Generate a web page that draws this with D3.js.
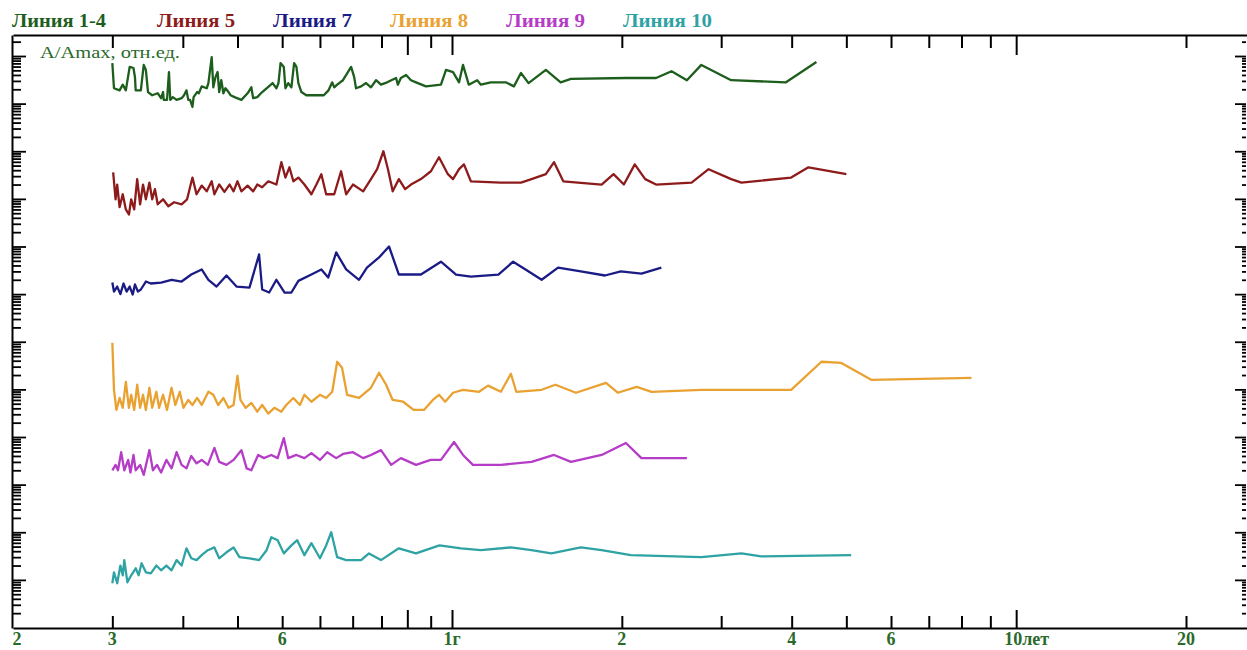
<!doctype html>
<html lang="ru">
<head>
<meta charset="UTF-8" />
<script src="https://unpkg.com/d3@7.9.0/dist/d3.min.js"></script>
<style>
  body { margin: 0; background: #fff; overflow: hidden; }
  svg { display: block; font-family: "Liberation Serif", "Times New Roman", serif; }
  .legend text { font-weight: bold; font-size: 18px; }
  .xlab { font-weight: bold; font-size: 18px; fill: #2b6a2b; }
  .ylab { font-size: 17px; fill: #2b6a2b; }
  .axis path, .axis line { stroke: #000; stroke-width: 2; }
  .series { fill: none; stroke-width: 2.3; stroke-linejoin: round; }
</style>
</head>
<body>
<svg width="1247" height="650"></svg>
<script>
// [месяцы, A/Amax]
const line14 = [[3.00,0.71],[3.02,0.21],[3.09,0.19],[3.13,0.25],[3.17,0.19],[3.22,0.59],[3.27,0.56],[3.29,0.36],[3.30,0.19],[3.37,0.19],[3.41,0.65],[3.44,0.51],[3.47,0.175],[3.53,0.15],[3.61,0.165],[3.66,0.13],[3.69,0.175],[3.70,0.12],[3.75,0.12],[3.78,0.46],[3.80,0.12],[3.84,0.137],[3.90,0.12],[3.98,0.13],[4.02,0.15],[4.06,0.19],[4.09,0.12],[4.12,0.12],[4.16,0.085],[4.18,0.137],[4.24,0.175],[4.27,0.165],[4.32,0.23],[4.41,0.21],[4.44,0.27],[4.50,0.95],[4.53,0.22],[4.57,0.36],[4.61,0.46],[4.64,0.175],[4.68,0.31],[4.72,0.165],[4.76,0.21],[4.82,0.175],[4.86,0.15],[4.94,0.137],[5.08,0.12],[5.21,0.165],[5.29,0.22],[5.33,0.13],[5.42,0.137],[5.53,0.175],[5.63,0.21],[5.77,0.27],[5.86,0.21],[5.91,0.27],[5.96,0.71],[6.04,0.59],[6.08,0.21],[6.15,0.27],[6.23,0.22],[6.30,0.71],[6.36,0.59],[6.41,0.27],[6.49,0.175],[6.62,0.15],[6.76,0.15],[7.11,0.15],[7.25,0.19],[7.36,0.28],[7.42,0.22],[7.51,0.25],[7.69,0.31],[7.95,0.59],[8.05,0.36],[8.11,0.21],[8.28,0.23],[8.45,0.27],[8.62,0.22],[8.80,0.31],[8.98,0.25],[9.21,0.28],[9.55,0.345],[9.62,0.25],[9.74,0.345],[9.95,0.40],[10.15,0.31],[10.36,0.28],[10.79,0.23],[11.47,0.25],[11.71,0.51],[12.05,0.46],[12.35,0.28],[12.55,0.65],[12.85,0.25],[13.3,0.31],[13.5,0.25],[14.06,0.28],[14.95,0.28],[15.45,0.23],[15.9,0.44],[16.4,0.27],[17.6,0.51],[18.7,0.28],[19.5,0.33],[24.4,0.345],[27.6,0.345],[29.4,0.48],[31.3,0.31],[33.2,0.65],[37.5,0.31],[46.9,0.28],[53.1,0.75]];

const line5 = [[3.01,0.36],[3.04,0.098],[3.06,0.20],[3.09,0.067],[3.13,0.125],[3.17,0.06],[3.21,0.047],[3.24,0.098],[3.28,0.06],[3.32,0.26],[3.36,0.077],[3.40,0.20],[3.44,0.098],[3.49,0.22],[3.53,0.098],[3.57,0.16],[3.61,0.077],[3.69,0.098],[3.77,0.07],[3.86,0.085],[3.98,0.077],[4.07,0.098],[4.16,0.28],[4.23,0.125],[4.32,0.19],[4.41,0.144],[4.50,0.234],[4.55,0.125],[4.64,0.20],[4.74,0.14],[4.84,0.20],[4.92,0.144],[5.00,0.234],[5.08,0.144],[5.21,0.19],[5.33,0.144],[5.42,0.20],[5.53,0.175],[5.67,0.234],[5.86,0.20],[5.98,0.59],[6.08,0.28],[6.18,0.46],[6.28,0.234],[6.41,0.28],[6.57,0.20],[6.76,0.125],[6.90,0.20],[7.04,0.33],[7.18,0.125],[7.42,0.125],[7.63,0.38],[7.79,0.125],[8.01,0.20],[8.35,0.144],[8.62,0.26],[8.84,0.42],[9.07,1.0],[9.24,0.42],[9.42,0.144],[9.66,0.26],[9.91,0.16],[10.15,0.20],[10.57,0.26],[11.01,0.38],[11.38,0.75],[11.8,0.33],[12.05,0.26],[12.35,0.42],[12.6,0.53],[12.96,0.234],[14.65,0.22],[15.9,0.22],[16.6,0.26],[17.6,0.33],[18.2,0.59],[18.9,0.234],[22.1,0.20],[23.2,0.33],[24.2,0.20],[25.3,0.53],[26.4,0.26],[27.6,0.20],[31.9,0.22],[34.2,0.42],[37.5,0.26],[39.1,0.22],[47.9,0.28],[51.4,0.46],[60.0,0.33]];

const line7 = [[3.00,0.175],[3.02,0.113],[3.06,0.144],[3.10,0.10],[3.14,0.167],[3.18,0.113],[3.22,0.144],[3.26,0.098],[3.29,0.16],[3.33,0.113],[3.37,0.125],[3.44,0.184],[3.51,0.167],[3.66,0.175],[3.82,0.20],[3.98,0.184],[4.14,0.258],[4.32,0.33],[4.44,0.20],[4.59,0.144],[4.78,0.246],[4.98,0.144],[5.25,0.137],[5.46,0.68],[5.53,0.125],[5.69,0.108],[5.86,0.20],[6.06,0.108],[6.23,0.108],[6.41,0.19],[6.76,0.258],[7.04,0.33],[7.24,0.223],[7.48,0.75],[7.79,0.33],[8.21,0.20],[8.48,0.36],[8.91,0.59],[9.28,1.0],[9.66,0.258],[10.57,0.258],[11.47,0.48],[12.2,0.258],[12.96,0.234],[14.5,0.258],[15.4,0.48],[16.2,0.33],[17.3,0.20],[18.5,0.36],[20.3,0.30],[22.4,0.246],[23.9,0.30],[26.0,0.27],[28.2,0.36]];

const line8 = [[3.00,0.95],[3.02,0.098],[3.05,0.037],[3.09,0.066],[3.13,0.041],[3.17,0.144],[3.21,0.041],[3.24,0.077],[3.28,0.037],[3.32,0.125],[3.36,0.041],[3.40,0.077],[3.44,0.037],[3.49,0.108],[3.53,0.041],[3.59,0.089],[3.63,0.041],[3.69,0.077],[3.75,0.037],[3.82,0.108],[3.88,0.047],[3.95,0.089],[4.01,0.041],[4.09,0.06],[4.16,0.047],[4.24,0.066],[4.32,0.047],[4.44,0.089],[4.53,0.077],[4.62,0.047],[4.72,0.066],[4.82,0.041],[4.92,0.047],[5.00,0.193],[5.06,0.06],[5.17,0.041],[5.29,0.052],[5.42,0.034],[5.53,0.047],[5.67,0.031],[5.81,0.041],[5.98,0.034],[6.10,0.047],[6.28,0.066],[6.45,0.047],[6.57,0.077],[6.76,0.055],[7.00,0.077],[7.18,0.066],[7.36,0.089],[7.51,0.38],[7.66,0.284],[7.82,0.077],[8.21,0.066],[8.62,0.108],[8.91,0.223],[9.17,0.125],[9.42,0.06],[9.83,0.055],[10.26,0.037],[10.7,0.037],[11.1,0.06],[11.38,0.077],[11.67,0.055],[12.05,0.085],[12.55,0.098],[13.4,0.089],[13.9,0.12],[14.65,0.089],[15.26,0.213],[15.6,0.089],[17.3,0.098],[18.3,0.125],[19.9,0.085],[22.5,0.137],[23.6,0.085],[25.5,0.113],[27.1,0.089],[33.2,0.098],[47.9,0.098],[54.2,0.38],[58.8,0.36],[66.4,0.159],[100,0.175]];

const line9 = [[3.00,0.20],[3.04,0.26],[3.07,0.20],[3.11,0.48],[3.15,0.20],[3.20,0.33],[3.23,0.18],[3.27,0.42],[3.30,0.20],[3.36,0.26],[3.41,0.16],[3.49,0.53],[3.54,0.20],[3.60,0.26],[3.66,0.18],[3.74,0.33],[3.82,0.22],[3.90,0.48],[3.98,0.26],[4.06,0.22],[4.14,0.40],[4.23,0.28],[4.32,0.33],[4.43,0.26],[4.55,0.59],[4.64,0.30],[4.78,0.26],[4.92,0.33],[5.08,0.53],[5.19,0.22],[5.29,0.20],[5.44,0.42],[5.57,0.36],[5.74,0.42],[5.89,0.36],[6.04,0.95],[6.15,0.36],[6.36,0.42],[6.57,0.36],[6.76,0.46],[7.00,0.33],[7.21,0.48],[7.48,0.36],[7.69,0.44],[8.01,0.48],[8.35,0.36],[8.62,0.42],[8.98,0.53],[9.36,0.26],[9.74,0.36],[10.36,0.26],[11.0,0.33],[11.47,0.33],[12.1,0.785],[12.55,0.42],[13.07,0.26],[14.65,0.26],[16.6,0.30],[18.2,0.42],[19.5,0.30],[22.1,0.42],[24.4,0.75],[26.0,0.36],[31.3,0.36]];

const line10 = [[3.00,0.085],[3.02,0.144],[3.06,0.085],[3.10,0.20],[3.13,0.125],[3.15,0.26],[3.19,0.089],[3.24,0.125],[3.30,0.175],[3.34,0.125],[3.38,0.223],[3.44,0.144],[3.51,0.137],[3.59,0.20],[3.66,0.159],[3.74,0.20],[3.82,0.159],[3.90,0.26],[3.98,0.20],[4.06,0.46],[4.14,0.284],[4.23,0.26],[4.32,0.33],[4.43,0.42],[4.55,0.48],[4.64,0.284],[4.78,0.38],[4.92,0.48],[5.04,0.30],[5.25,0.284],[5.46,0.26],[5.63,0.42],[5.74,0.785],[5.89,0.68],[6.04,0.36],[6.23,0.53],[6.38,0.68],[6.57,0.33],[6.76,0.59],[7.00,0.284],[7.18,0.53],[7.33,1.0],[7.51,0.30],[7.79,0.26],[8.28,0.26],[8.55,0.36],[8.98,0.26],[9.66,0.46],[10.36,0.36],[11.4,0.53],[12.45,0.46],[13.5,0.42],[15.26,0.48],[16.6,0.42],[18.0,0.36],[20.3,0.48],[22.1,0.42],[24.9,0.33],[33.2,0.30],[39.1,0.36],[42.4,0.31],[61.2,0.33]];

const seriesNames = ['Линия 1-4', 'Линия 5', 'Линия 7', 'Линия 8', 'Линия 9', 'Линия 10'];
const seriesData = [line14, line5, line7, line8, line9, line10];
const seriesColors = ['#1d5e1d', '#8e1b1b', '#1b1b86', '#e9a232', '#b53cc6', '#2fa3a3'];
// сдвиг каждой кривой по оси (декады)
const seriesShift = [1e12, 1e10, 1e8, 1e6, 1e4, 1e2];
// метки оси времени (месяцы)
const xTickValues = [3, 4, 5, 6, 7, 8, 9, 10, 11, 12, 24, 36, 48, 60, 72, 84, 96, 108, 120, 240];
const xLongTicks = [10, 12, 120];
const xLabelValues = [2, 3, 6, 12, 24, 48, 72, 120, 240];
const xLabelText = ['2', '3', '6', '1г', '2', '4', '6', '10лет', '20'];

const plotTop = 35, plotBottom = 628, plotLeft = 12, plotRight = 1246;

const svg = d3.select('svg');

const x = d3.scaleLog().domain([2, 240]).range([13, 1186]);
x.domain([2, x.invert(1247)]).range([13, 1247]);

// 1e12 на y=56, 1 на y=627.5
const y = d3.scaleLog().domain([1, 1e12]).range([627.5, 56]);
y.domain([y.invert(plotBottom), y.invert(plotTop)]).range([plotBottom, plotTop]);

const yTicks = [];
for (let k = -1; k < 13; k++) {
  for (let m = 1; m < 10; m++) yTicks.push(m * Math.pow(10, k));
}
const yIn = yTicks.filter((v) => y(v) <= plotBottom - 0.5 && y(v) >= plotTop + 2);
const isMajor = (v) => Math.abs(Math.log10(v) - Math.round(Math.log10(v))) < 1e-6;

// верхняя ось
const gTop = svg.append('g').attr('class', 'axis')
  .attr('transform', `translate(0,${plotTop})`)
  .call(d3.axisBottom(x).tickValues(xTickValues).tickSizeOuter(0).tickFormat(''));
gTop.selectAll('.tick line').attr('y2', (d) => (xLongTicks.includes(d) ? 20 : 13));

// нижняя ось
const gBot = svg.append('g').attr('class', 'axis')
  .attr('transform', `translate(0,${plotBottom})`)
  .call(d3.axisTop(x).tickValues(xTickValues).tickSizeOuter(0).tickFormat(''));
gBot.selectAll('.tick line').attr('y2', (d) => (xLongTicks.includes(d) ? -18 : -12));

// левая ось
const gLeft = svg.append('g').attr('class', 'axis')
  .attr('transform', `translate(${plotLeft},0)`)
  .call(d3.axisRight(y).tickValues(yIn).tickSizeOuter(0).tickFormat(''));
gLeft.selectAll('.tick line')
  .attr('x2', (d) => (isMajor(d) ? 14 : 9))
  .style('stroke-width', 1.8);

// правая ось
const gRight = svg.append('g').attr('class', 'axis')
  .attr('transform', `translate(${plotRight},0)`)
  .call(d3.axisLeft(y).tickValues(yIn).tickSizeOuter(0).tickFormat(''));
gRight.select('.domain').remove();
gRight.selectAll('.tick line')
  .attr('x2', (d) => (isMajor(d) ? -11 : -4))
  .style('stroke-width', 1.8);

// подписи оси времени
svg.append('g').selectAll('text')
  .data(xLabelValues)
  .join('text')
  .attr('class', 'xlab')
  .attr('x', (d, i) => (xLabelText[i] === '10лет' ? x(d) - 12 : x(d) + (d === 2 ? 4 : 0)))
  .attr('y', 645)
  .attr('text-anchor', (d, i) => (xLabelText[i] === '10лет' ? 'start' : 'middle'))
  .text((d, i) => xLabelText[i]);

svg.append('text')
  .attr('class', 'ylab')
  .attr('x', 40)
  .attr('y', 58)
  .attr('textLength', 140)
  .attr('lengthAdjust', 'spacingAndGlyphs')
  .text('A/Amax, отн.ед.');

// кривые
const line = d3.line()
  .x((d) => x(d[0]))
  .y((d) => y(d[1]));

seriesData.forEach((data, i) => {
  svg.append('path')
    .attr('class', 'series')
    .attr('stroke', seriesColors[i])
    .attr('d', line(data.map((d) => [d[0], d[1] * seriesShift[i]])));
});

// легенда
const legendX = [12, 157, 273, 390, 506, 623];
const legendW = [94, 78, 79, 78, 79, 89];
svg.append('g').attr('class', 'legend')
  .selectAll('text')
  .data(seriesNames)
  .join('text')
  .attr('x', (d, i) => legendX[i])
  .attr('y', 27)
  .attr('textLength', (d, i) => legendW[i])
  .attr('lengthAdjust', 'spacingAndGlyphs')
  .attr('fill', (d, i) => seriesColors[i])
  .text((d) => d);
</script>
</body>
</html>
